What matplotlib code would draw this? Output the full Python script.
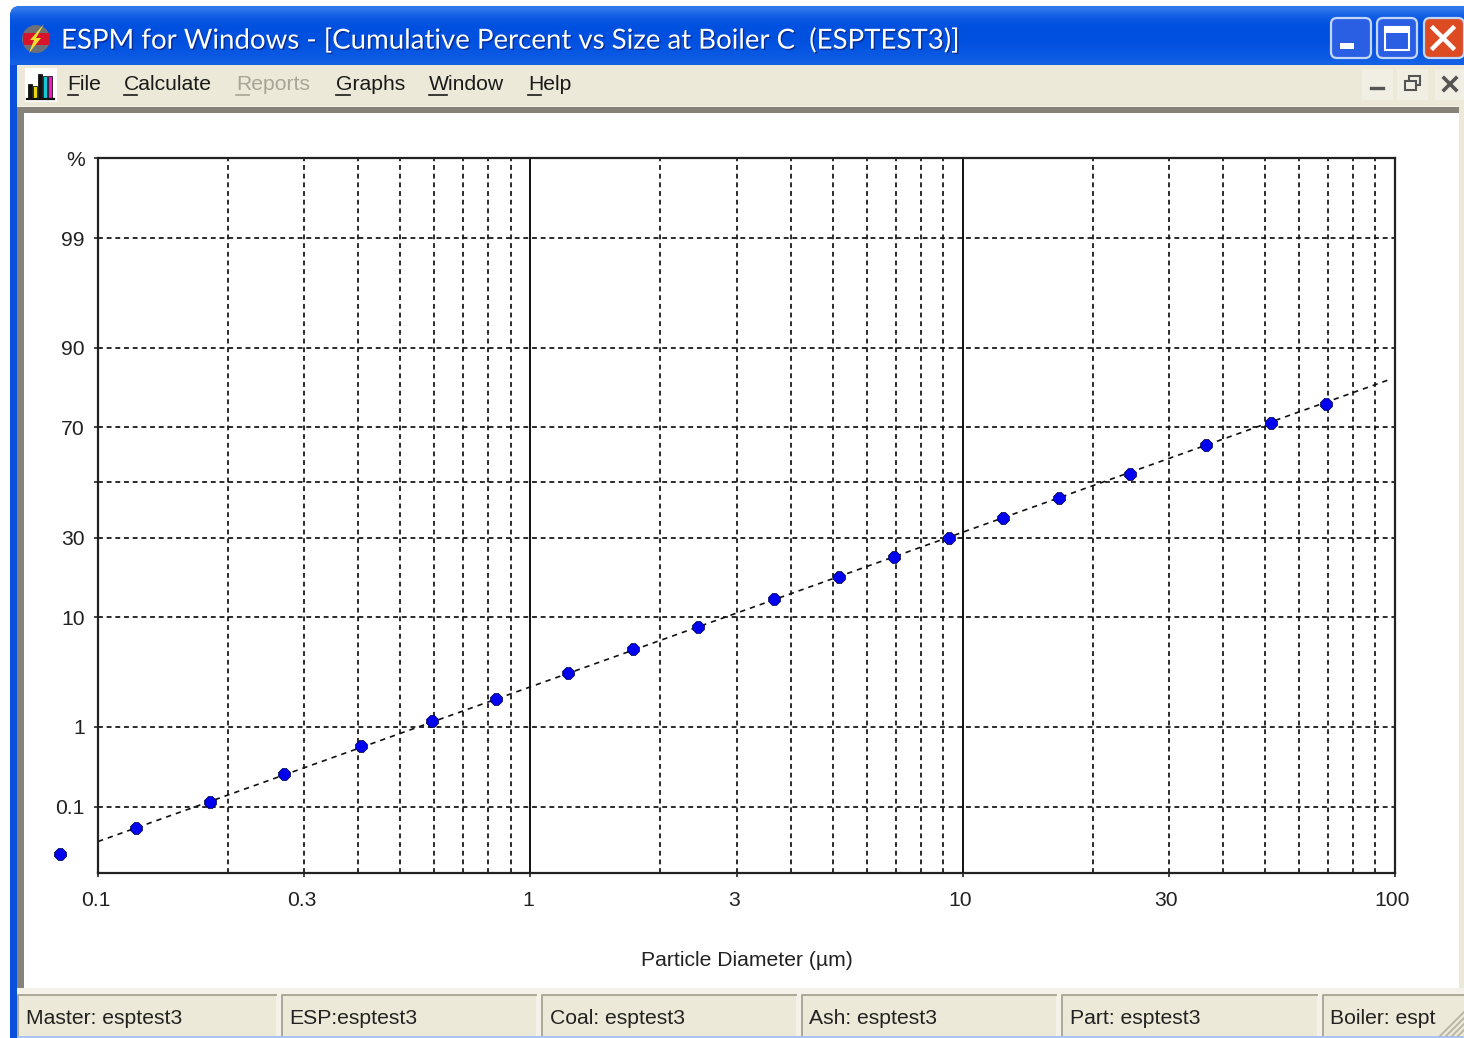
from statistics import NormalDist
import numpy as np
import matplotlib
matplotlib.use("Agg")
import matplotlib.pyplot as plt
from matplotlib.patches import Rectangle, FancyBboxPatch, Circle, Polygon
from matplotlib.transforms import ScaledTranslation
import matplotlib.patheffects as pe

# ---------- data ----------
diameter = [0.0817, 0.1224, 0.1816, 0.2693, 0.4058, 0.5924, 0.833, 1.222, 1.728, 2.442,
            3.66, 5.176, 6.94, 9.30, 12.4, 16.7, 24.4, 36.6, 51.7, 69.3]
cum_percent = [0.0198, 0.0492, 0.119, 0.279, 0.597, 1.17, 1.98, 3.45, 5.59, 8.37,
               13.3, 18.5, 23.8, 30.0, 36.6, 44.0, 53.4, 63.8, 71.3, 77.4]
fit_diameter = [0.1, 97.4]
fit_percent = [0.0314, 83.7]

x_ticks = [0.1, 0.3, 1, 3, 10, 30, 100]
x_labels = ["0.1", "0.3", "1", "3", "10", "30", "100"]
x_dashed = [0.2, 0.3, 0.4, 0.5, 0.6, 0.7, 0.8, 0.9,
            2, 3, 4, 5, 6, 7, 8, 9,
            20, 30, 40, 50, 60, 70, 80, 90]
x_solid = [1, 10]
y_ticks = [0.1, 1, 10, 30, 50, 70, 90, 99, 99.9]
y_labels = ["0.1", "1", "10", "30", "", "70", "90", "99", "%"]

title_text = "ESPM for Windows - [Cumulative Percent vs Size at Boiler C  (ESPTEST3)]"
menu_items = ["File", "Calculate", "Reports", "Graphs", "Window", "Help"]
status_items = ["Master: esptest3", "ESP:esptest3", "Coal: esptest3",
                "Ash: esptest3", "Part: esptest3", "Boiler: espt"]

# ---------- figure ----------
W, H = 1464, 1038
plt.rcParams["font.family"] = ["Liberation Sans", "DejaVu Sans"]
fig = plt.figure(figsize=(W / 100, H / 100), dpi=100, facecolor="white")

# window chrome, in pixel coordinates
ui = fig.add_axes([0, 0, 1, 1], zorder=0)
ui.set_xlim(0, W)
ui.set_ylim(H, 0)
ui.axis("off")
BEIGE = "#ECE9D8"

ui.add_patch(FancyBboxPatch((10, 6), W + 30, H + 30, boxstyle="round,pad=0,rounding_size=10",
                            fc="#0A50DC", ec="none", zorder=1))
grad = np.array([[0.55], [0.25], [0.08], [0.0], [0.0], [0.0], [0.03], [0.08], [0.12], [0.22]])
blue_a = np.array([0x00, 0x50, 0xE0]) / 255
blue_b = np.array([0x5A, 0x9A, 0xF5]) / 255
grad_img = (blue_a + grad[..., None] * (blue_b - blue_a))
clip = FancyBboxPatch((10, 6), W + 30, 100, boxstyle="round,pad=0,rounding_size=10",
                      transform=ui.transData, fc="none", ec="none")
ui.add_patch(clip)
im = ui.imshow(grad_img, extent=(10, W, 65, 6), aspect="auto", interpolation="bilinear", zorder=2)
im.set_clip_path(clip)
ui.set_xlim(0, W)
ui.set_ylim(H, 0)

ui.add_patch(Rectangle((17, 65), W, 41, fc=BEIGE, ec="none", zorder=3))
ui.add_patch(Rectangle((17, 106), W, 884, fc="#F4F2E8", ec="none", zorder=3))
ui.add_patch(Rectangle((17, 107), 1442, 881, fc="#86827A", ec="none", zorder=3))
ui.add_patch(Rectangle((24, 113), 1435, 875, fc="white", ec="none", zorder=3))
ui.add_patch(Rectangle((1459, 106), 5, 884, fc=BEIGE, ec="none", zorder=3))
ui.add_patch(Rectangle((17, 988), W, 50, fc="#F4F2E8", ec="none", zorder=3))
ui.add_patch(Rectangle((17, 1036), W, 2, fc="#A9C4F2", ec="none", zorder=5))

# status bar panels
panel_x = [(18, 276), (282, 536), (542, 796), (802, 1056), (1062, 1317), (1323, 1470)]
text_x = [26, 289, 550, 809, 1070, 1330]
for (x0, x1), tx, label in zip(panel_x, text_x, status_items):
    ui.add_patch(Rectangle((x0, 995), x1 - x0, 41, fc=BEIGE, ec="none", zorder=4))
    ui.plot([x0, x0, x1], [1036, 995, 995], color="#ACA899", lw=1.4, zorder=4)
    ui.text(tx, 1019, label, fontsize=15.2, color="#222222", va="center", ha="left", zorder=6)
for d in (6, 12, 18, 24):
    ui.plot([1464 - d, 1464], [1036, 1036 - d], color="#B8B4A4", lw=1.3, zorder=6)

# title bar text, buttons
ui.text(61, 40, title_text, fontsize=19.9, family="Lato", color="white", va="center", ha="left",
        zorder=7, path_effects=[pe.withSimplePatchShadow(offset=(1, -1), shadow_rgbFace="#0A2A90", alpha=0.9)])

def window_button(x0, fc):
    ui.add_patch(FancyBboxPatch((x0, 18), 40, 40, boxstyle="round,pad=0,rounding_size=6",
                                fc=fc, ec="#C4D6F8", lw=1.6, zorder=7))

window_button(1331, "#2A5FE4")
window_button(1377, "#2A5FE4")
window_button(1424, "#DC4B22")
ui.add_patch(Rectangle((1340, 43), 14, 6, fc="white", ec="none", zorder=8))
ui.add_patch(Rectangle((1385, 27), 24, 23, fc="none", ec="white", lw=1.5, zorder=8))
ui.add_patch(Rectangle((1385, 27), 24, 6, fc="white", ec="none", zorder=8))
ui.plot([1433, 1453], [28, 48], color="white", lw=3.2, zorder=8)
ui.plot([1433, 1453], [48, 28], color="white", lw=3.2, zorder=8)

# application icon
ui.add_patch(Circle((36, 39), 14, fc="#6E7078", ec="none", zorder=7))
ui.add_patch(Rectangle((23, 33), 27, 12, fc="#D8142A", ec="none", zorder=8))
ui.add_patch(Polygon([[44, 24], [36, 38], [41, 38], [29, 53], [34, 40], [30, 40]],
                     fc="#F2E030", ec="none", zorder=9))

# menu bar
menu_x = [67, 124, 236, 336, 429, 528]
menu_ul = [(68, 78), (124, 137), (236, 249), (336, 350), (429, 447), (528, 541)]
for i, (mx, (u0, u1), label) in enumerate(zip(menu_x, menu_ul, menu_items)):
    col = "#A8A598" if label == "Reports" else "#1A1A1A"
    ui.text(mx, 84, label, fontsize=15.2, color=col, va="center", ha="left", zorder=6)
    ui.plot([u0, u1], [95, 95], color=col, lw=1.2, zorder=6)

ui.add_patch(Rectangle((25, 68), 32, 34, fc="white", ec="none", zorder=5))
for bx, by, c in [(30, 84, "#111111"), (35, 86, "#E8D810"), (40, 74, "#111111"),
                  (45, 76, "#18C8D8"), (50, 76, "#F018C8")]:
    ui.add_patch(Rectangle((bx - 2, by), 4, 98 - by, fc=c, ec="#111111", lw=0.6, zorder=6))
ui.plot([27, 54], [99, 99], color="#111111", lw=1.6, zorder=6)

# inner window buttons
for cx in (1377, 1412, 1450):
    ui.add_patch(Rectangle((cx - 15, 69), 31, 31, fc="#F1EFE4", ec="none", zorder=5))
ui.plot([1371, 1383], [88, 88], color="#555555", lw=2.4, zorder=6)
ui.add_patch(Rectangle((1409, 76), 11, 9, fc="#F1EFE4", ec="#555555", lw=1.5, zorder=6))
ui.add_patch(Rectangle((1405, 81), 11, 9, fc="#F1EFE4", ec="#555555", lw=1.5, zorder=7))
ui.plot([1444, 1456], [78, 90], color="#555555", lw=2.6, zorder=6)
ui.plot([1444, 1456], [90, 78], color="#555555", lw=2.6, zorder=6)

# ---------- chart ----------
ND = NormalDist()

def prob_fwd(p):
    p = np.clip(np.asarray(p, dtype=float), 1e-4, 100 - 1e-4)
    return np.array([ND.inv_cdf(v / 100) for v in p.ravel()]).reshape(p.shape)

def prob_inv(z):
    z = np.asarray(z, dtype=float)
    return np.array([ND.cdf(v) * 100 for v in z.ravel()]).reshape(z.shape)

L, R, T, B = 98, 1395, 158, 873
ax = fig.add_axes([L / W, (H - B) / H, (R - L) / W, (B - T) / H], zorder=2)
ax.patch.set_alpha(0)
ax.set_xscale("log")
ax.set_yscale("function", functions=(prob_fwd, prob_inv))
ax.set_xlim(0.1, 100)
ax.set_ylim(0.01, 99.9)

DASH = (0, (2.8, 2.2))
for v in x_dashed:
    ax.axvline(v, color="#111111", lw=1.25, ls=DASH, zorder=1)
for v in x_solid:
    ax.axvline(v, color="#111111", lw=1.4, zorder=1)
for v in y_ticks[:-1]:
    ax.axhline(v, color="#111111", lw=1.25, ls=DASH, zorder=1)

ax.set_xticks(x_ticks, x_labels)
ax.xaxis.set_minor_locator(matplotlib.ticker.NullLocator())
ax.set_yticks(y_ticks, y_labels)
ax.yaxis.set_minor_locator(matplotlib.ticker.NullLocator())
ax.tick_params(axis="both", labelsize=15.2, length=3, width=1.1, color="#111111", labelcolor="#222222")
ax.tick_params(axis="x", pad=10)
ax.tick_params(axis="y", pad=6.5)
shift = ScaledTranslation(-2.5 / 100, 0, fig.dpi_scale_trans)
for lab in ax.get_xticklabels():
    lab.set_transform(lab.get_transform() + shift)
for s in ax.spines.values():
    s.set_color("#222222")
    s.set_linewidth(1.6)

ax.plot(fit_diameter, fit_percent, color="#111111", lw=1.2, ls=(0, (3.2, 3.0)), zorder=2)
ax.plot(diameter, cum_percent, ls="none", marker="8", ms=9.2, color="#0000F0",
        mec="#000040", mew=0.5, clip_on=False, zorder=3)
ax.set_xlabel("Particle Diameter (µm)", fontsize=15.2, color="#222222")
ax.xaxis.set_label_coords(0.5, -0.109)

fig.savefig("out.png", dpi=100, facecolor="white")
